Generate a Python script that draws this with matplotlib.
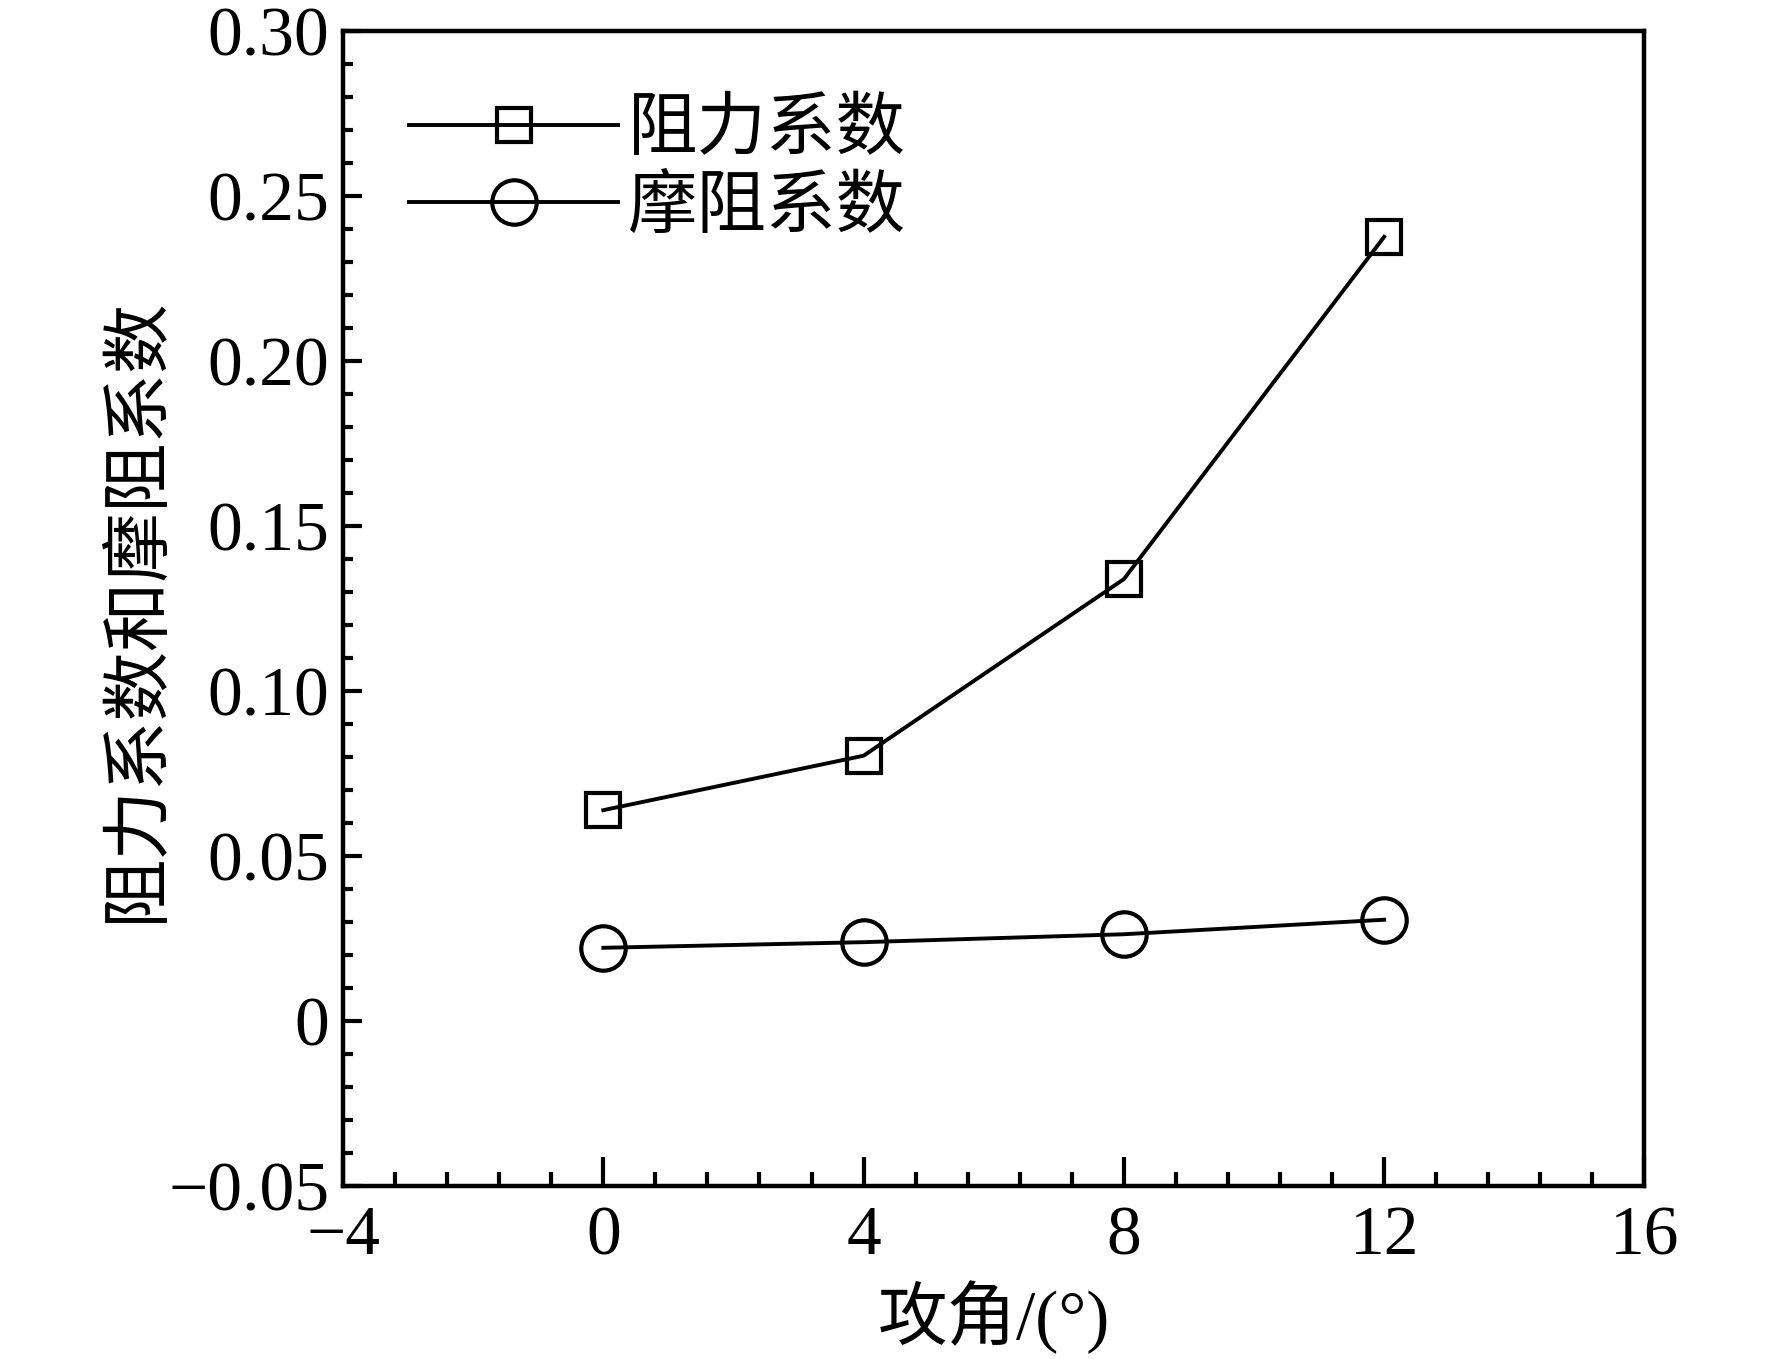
import numpy as np
import matplotlib.pyplot as plt
from matplotlib.ticker import MultipleLocator, FuncFormatter

plt.rcParams['font.family'] = ['Liberation Serif', 'Noto Sans CJK SC']
plt.rcParams['axes.unicode_minus'] = True

# angle of attack (deg)
angle = [0, 4, 8, 12]
drag_coef = [0.064, 0.0805, 0.134, 0.2377]
friction_coef = [0.0223, 0.024, 0.0264, 0.0308]

fig = plt.figure(figsize=(17.72, 13.59), dpi=100)
ax = fig.add_axes([0.1936, 0.127, 0.7344, 0.850])

ax.plot(angle, drag_coef, color='black', lw=2.8, marker='s', markersize=24,
        markerfacecolor='none', markeredgewidth=3, label='阻力系数')
ax.plot(angle, friction_coef, color='black', lw=2.8, marker='o', markersize=32,
        markerfacecolor='none', markeredgewidth=3, label='摩阻系数')

ax.set_xlim(-4, 16)
ax.set_ylim(-0.05, 0.30)
ax.xaxis.set_major_locator(MultipleLocator(4))
ax.xaxis.set_minor_locator(MultipleLocator(0.8))
ax.yaxis.set_major_locator(MultipleLocator(0.05))
ax.yaxis.set_minor_locator(MultipleLocator(0.01))


def yfmt(v, pos):
    if abs(v) < 1e-9:
        return '0'
    return f'{v:.2f}'.replace('-', '\u2212')


def xfmt(v, pos):
    return f'{v:.0f}'.replace('-', '\u2212')


ax.yaxis.set_major_formatter(FuncFormatter(yfmt))
ax.xaxis.set_major_formatter(FuncFormatter(xfmt))

for s in ax.spines.values():
    s.set_linewidth(3.2)
ax.tick_params(axis='both', which='both', direction='in', top=False, right=False,
               labelsize=50, width=3)
ax.tick_params(axis='x', which='major', length=21, pad=14)
ax.tick_params(axis='x', which='minor', length=10)
ax.tick_params(axis='y', which='major', length=14, pad=10)
ax.tick_params(axis='y', which='minor', length=7)

ax.set_xlabel('攻角/(°)', fontsize=50, labelpad=8)
ax.set_ylabel('阻力系数和摩阻系数', fontsize=50, labelpad=-2)

leg = ax.legend(loc='upper left', bbox_to_anchor=(0.003, 0.995), frameon=False,
                fontsize=50, handlelength=3.0, handletextpad=0.15,
                labelspacing=0.18)

fig.savefig('out.png', dpi=100)
